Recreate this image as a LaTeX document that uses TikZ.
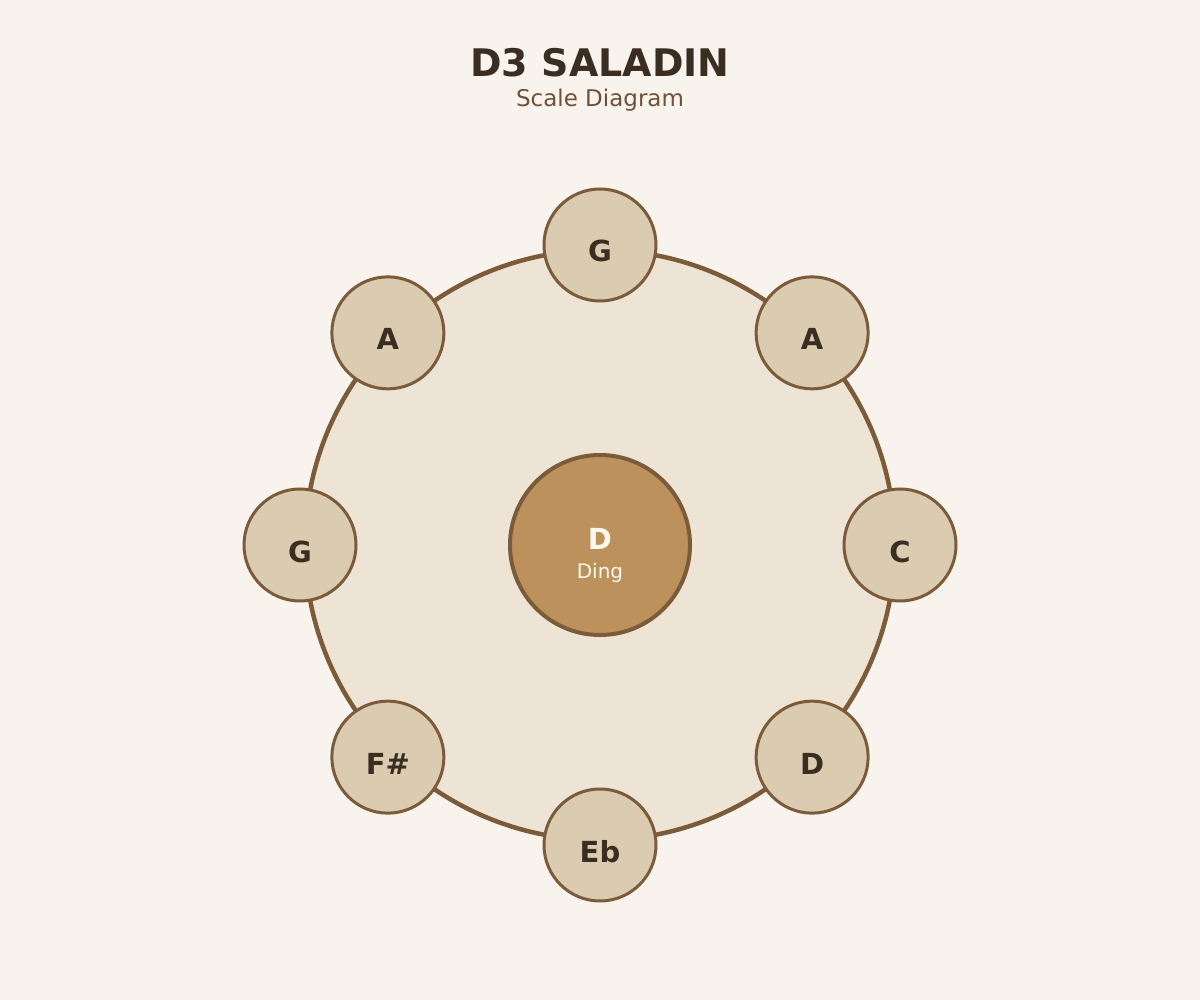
\documentclass[tikz,border=0pt]{standalone}
\usepackage{fontspec}
\setmainfont{DejaVu Sans}
\definecolor{bg}{HTML}{F8F3ED}
\definecolor{bigfill}{HTML}{EDE4D5}
\definecolor{rim}{HTML}{7C5B3B}
\definecolor{notefill}{HTML}{DBCBB0}
\definecolor{dingfill}{HTML}{BC915C}
\definecolor{ink}{HTML}{3A2E23}
\definecolor{subink}{HTML}{6E513A}
\definecolor{dingink}{HTML}{FFF8EC}
\begin{document}
\begin{tikzpicture}[x=1pt,y=-1pt,
  notecirc/.style={circle,draw=rim,line width=3pt,fill=notefill,minimum size=112pt,inner sep=0pt},
  notelabel/.style={anchor=base,inner sep=0pt,text=ink,font=\fontsize{29}{32}\selectfont\bfseries},
]
\fill[bg] (0,0) rectangle (1200,1000);
\useasboundingbox (0,0) rectangle (1200,1000);
\node[anchor=base,inner sep=0pt,text=ink,font=\fontsize{38}{42}\selectfont\bfseries] (title) at (600,77) {D3 SALADIN};
\node[anchor=base,inner sep=0pt,text=subink,font=\fontsize{23}{26}\selectfont] (subtitle) at (600,107) {Scale Diagram};
\node[circle,draw=rim,line width=4.5pt,fill=bigfill,minimum size=590pt,inner sep=0pt] (body) at (600,545) {};
\node[circle,draw=rim,line width=4pt,fill=dingfill,minimum size=180pt,inner sep=0pt] (ding) at (600,545) {};
\node[anchor=base,inner sep=0pt,text=dingink,font=\fontsize{29}{32}\selectfont\bfseries] (dingnote) at (600,549) {D};
\node[anchor=base,inner sep=0pt,text=dingink,font=\fontsize{20}{24}\selectfont] (dingname) at (600,578) {Ding};
\foreach \name/\ang/\txt in {n1/90/G, n2/45/A, n3/0/C, n4/-45/D, n5/-90/Eb, n6/-135/F\#, n7/180/G, n8/135/A}{
  \node[notecirc] (\name) at ({600+300*cos(\ang)},{545-300*sin(\ang)}) {};
  \node[notelabel] (\name-t) at ({600+300*cos(\ang)},{545-300*sin(\ang)+17}) {\txt};
}
\end{tikzpicture}
\end{document}
